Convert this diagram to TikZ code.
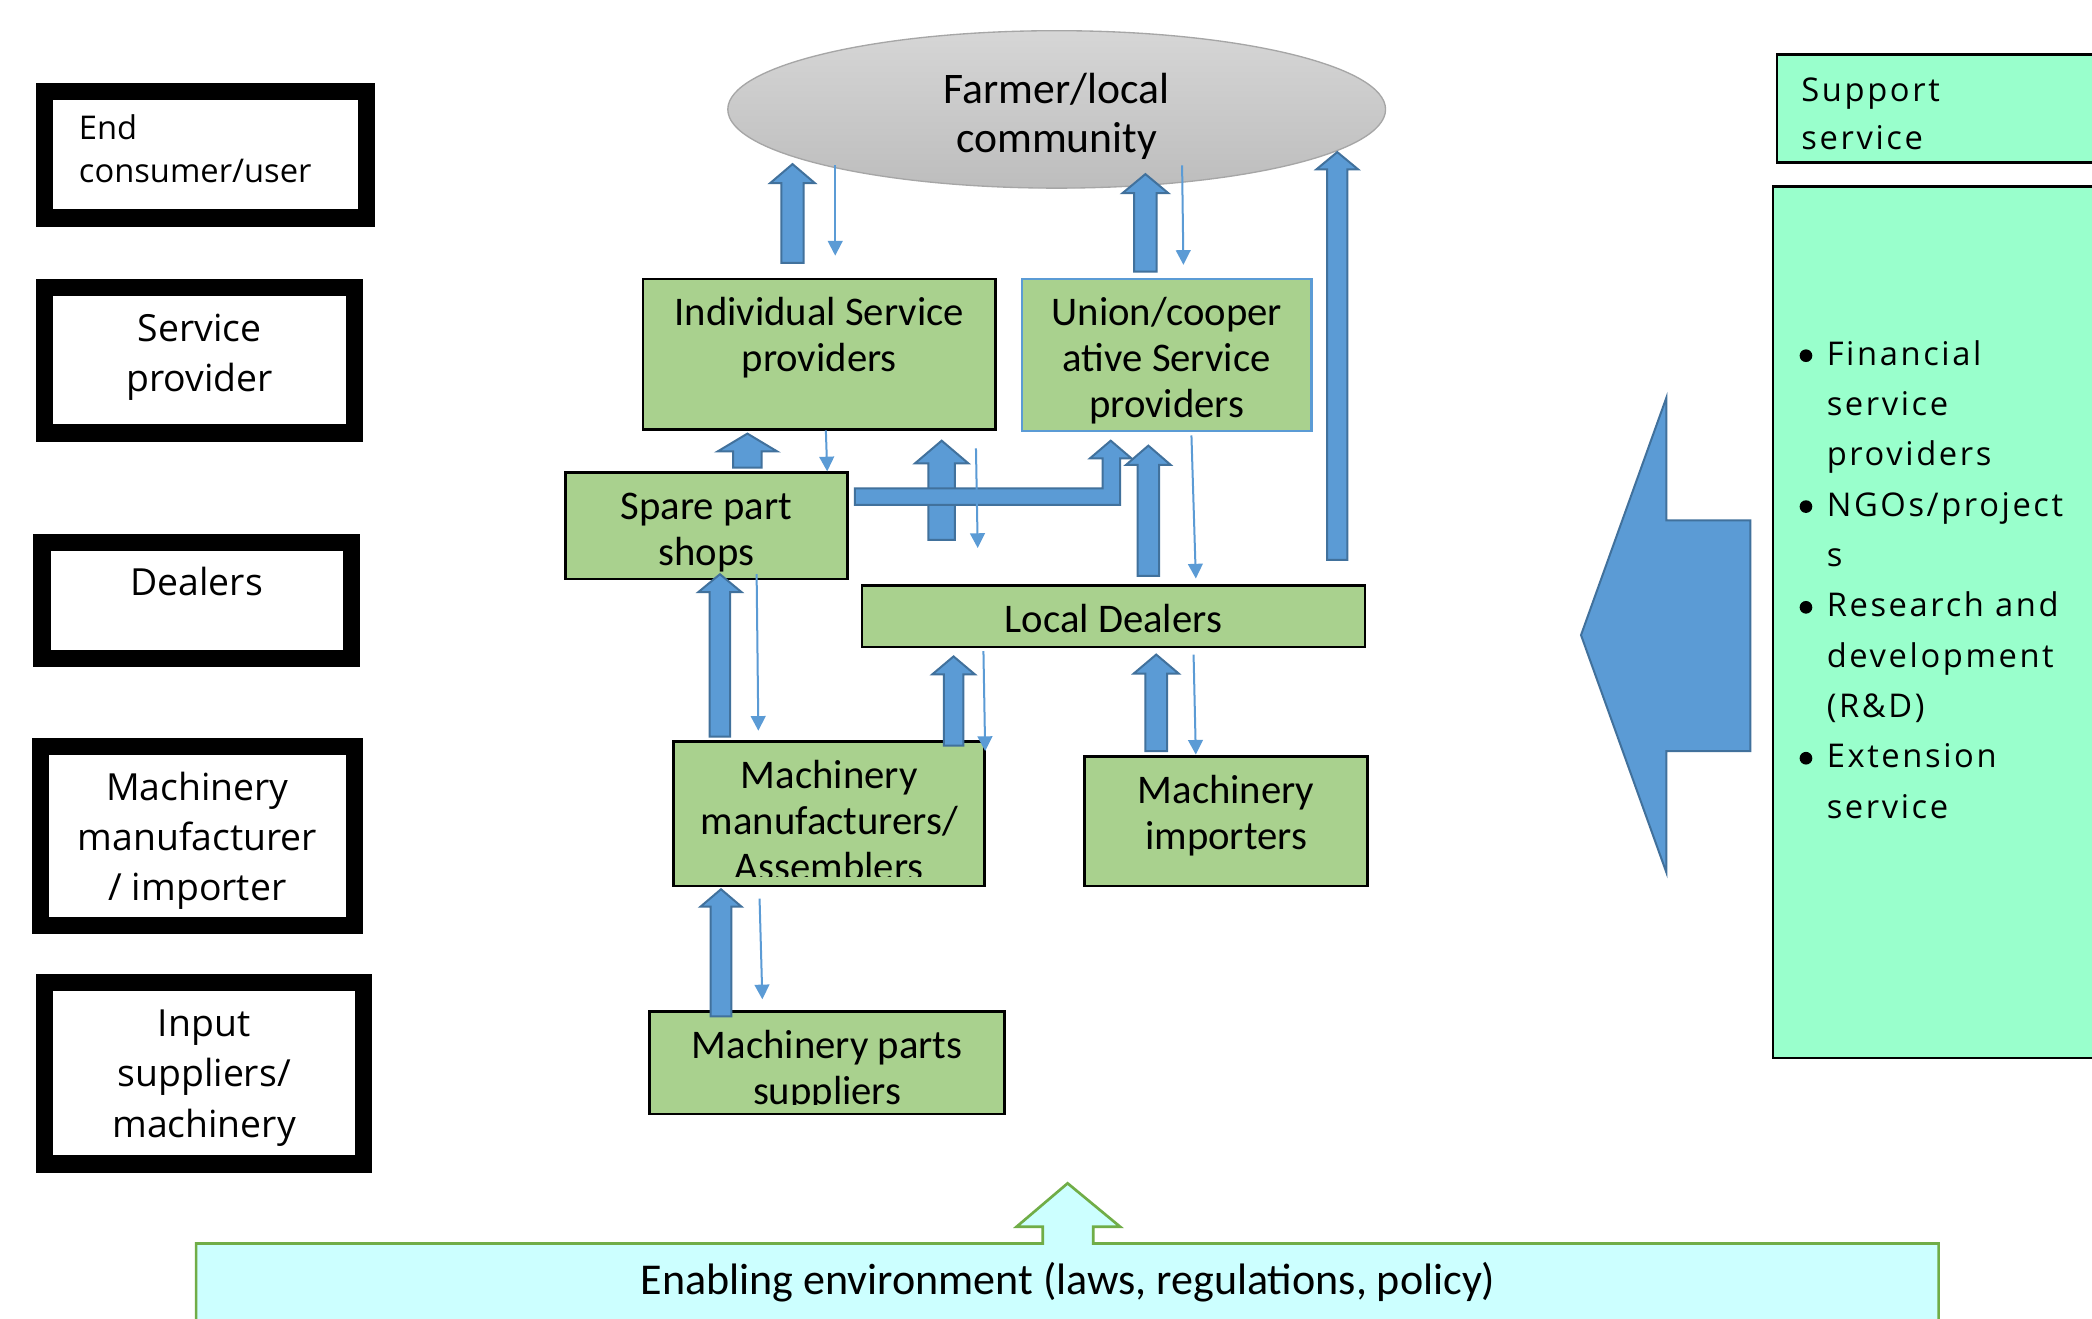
\documentclass[tikz,border=0pt]{standalone}
\usepackage{fontspec}
\setmainfont{Carlito}
\newfontfamily\osans{Open Sans}
\newfontfamily\supfont[LetterSpace=8]{Open Sans}
\usetikzlibrary{arrows.meta,shapes.geometric}
\definecolor{boxgreen}{HTML}{A9D18E}
\definecolor{arrblue}{HTML}{5B9BD5}
\definecolor{arrdark}{HTML}{41719C}
\definecolor{mint}{HTML}{99FFCC}
\definecolor{lcyan}{HTML}{CCFFFF}
\definecolor{envgreen}{HTML}{70AD47}
\definecolor{elltop}{HTML}{D6D6D6}
\definecolor{ellbot}{HTML}{BDBDBD}
\definecolor{ellline}{HTML}{A6A6A6}
\newcommand\stt[1]{\rule{0pt}{#1pt}}
\newcommand\blkup[6]{%
  \filldraw[blockarr] (#1-#4,#2) -- (#1-#4,#3+#6) -- (#1-#5,#3+#6) -- (#1,#3)
    -- (#1+#5,#3+#6) -- (#1+#4,#3+#6) -- (#1+#4,#2) -- cycle;}
\tikzset{
  lbox/.style={draw=black, line width=13pt, fill=white, inner sep=0pt},
  gbox/.style={draw=black, line width=2pt, fill=boxgreen, inner sep=0pt},
  gtxt/.style={inner sep=0pt, align=center, font=\fontsize{30.5}{34.5}\selectfont},
  ltxt/.style={inner sep=0pt, align=center, font=\osans\fontsize{28}{37.5}\selectfont},
  stxt/.style={inner sep=0pt, align=left, anchor=north west},
  blockarr/.style={fill=arrblue, draw=arrdark, line width=1.5pt, line join=miter},
  thinarr/.style={draw=arrblue, line width=1.5pt, -{Triangle[width=11pt,length=11pt]}},
  bul/.style={circle, fill=black, inner sep=0pt, minimum size=9.5pt}
}
\begin{document}
\begin{tikzpicture}[x=1pt,y=-1pt]
\useasboundingbox (0,0) rectangle (1568,988);
\fill[white] (0,0) rectangle (1568,988);

% ---- left column
\node[lbox, minimum width=241pt, minimum height=95pt] (endu) at (154,116) {};
\node[lbox, minimum width=232pt, minimum height=109pt] (servp) at (149.5,270) {};
\node[lbox, minimum width=232pt, minimum height=87pt] (deal) at (147.5,450) {};
\node[lbox, minimum width=235pt, minimum height=134pt] (manimp) at (148,626.5) {};
\node[lbox, minimum width=239pt, minimum height=136pt] (inputs) at (153,804.5) {};
\node[stxt, font=\osans\fontsize{24.5}{32}\selectfont] (endut) at (59,84.5) {\stt{20}End\\consumer/user};
\node[ltxt, anchor=north] (servpt) at (149.5,232.5) {\stt{23}Service\\provider};
\node[ltxt, anchor=north] (dealt) at (147.5,423) {\stt{23}Dealers};
\node[ltxt, anchor=north] (manimpt) at (148,577) {\stt{23}Machinery\\manufacturer\\/ importer};
\node[ltxt, anchor=north] (inputst) at (153,754) {\stt{23}Input\\suppliers/\\machinery};

% ---- farmer ellipse
\node[ellipse, minimum width=493pt, minimum height=118pt, draw=ellline, line width=1pt,
      top color=elltop, bottom color=ellbot, inner sep=0pt] (farmer) at (792,82) {};
\node[inner sep=0pt, align=center, anchor=north, font=\fontsize{32.7}{37}\selectfont] (farmert) at (792,51)
  {\stt{26}Farmer/local\\community};

% ---- green boxes
\node[gbox, minimum width=264pt, minimum height=113pt] (indiv) at (614,265.5) {};
\node[gbox, draw=arrblue, minimum width=217pt, minimum height=114pt] (union) at (874.5,266) {};
\node[gbox, minimum width=211pt, minimum height=80pt] (spare) at (529.5,394) {};
\node[gbox, minimum width=377pt, minimum height=46pt] (local) at (834.5,462) {};
\node[gbox, minimum width=233pt, minimum height=108pt] (mman) at (621.5,610) {};
\node[gbox, minimum width=212pt, minimum height=97pt] (imp) at (919,615.5) {};
\node[gbox, minimum width=266pt, minimum height=77pt] (parts) at (620,796.5) {};

\node[gtxt, anchor=north] (indivt) at (614,220) {\stt{24}Individual Service\\providers};
\node[gtxt, anchor=north] (uniont) at (874.5,220) {\stt{24}Union/cooper\\ative Service\\providers};
\node[gtxt, anchor=north] (sparet) at (529.5,365) {\stt{24}Spare part\\shops};
\node[gtxt, anchor=north] (localt) at (834.5,450) {\stt{24}Local Dealers};
\begin{scope}
\clip (505,556) rectangle (738,657);
\node[gtxt, anchor=north] (mmant) at (621.5,567) {\stt{24}Machinery\\manufacturers/\\Assemblers};
\end{scope}
\node[gtxt, anchor=north] (impt) at (919,578) {\stt{24}Machinery\\importers};
\begin{scope}
\clip (487,758) rectangle (753,828);
\node[gtxt, anchor=north] (partst) at (620,769) {\stt{24}Machinery parts\\suppliers};
\end{scope}

% ---- block arrows (up)
\blkup{594}{197}{123}{8.4}{16.8}{14.3}
\blkup{858.5}{203.6}{130.5}{8.4}{17.2}{14.3}
\blkup{1002.3}{419.6}{114}{7.6}{15.7}{13}
\blkup{560.2}{350.5}{325}{10.7}{22.4}{13.4}
\blkup{705.8}{404.7}{330.3}{9.9}{20}{17}
% bent arrow spare -> union
\filldraw[blockarr] (640.8,366) -- (826.5,366) -- (826.5,343.5) -- (817,343.5) -- (832.5,330.3)
  -- (848,343.5) -- (839.5,343.5) -- (839.5,378.5) -- (640.8,378.5) -- cycle;
\blkup{860.7}{431.6}{334}{8}{16.8}{14.5}
\blkup{539.6}{552.2}{430.4}{7.7}{16.2}{13.4}
\blkup{714.7}{558.9}{492}{7.3}{15.9}{13.4}
\blkup{866.6}{562.9}{490.6}{8.2}{16.8}{14.2}
\blkup{540.4}{761.8}{666.5}{7.7}{15.3}{13}

% ---- thin arrows (down)
\draw[thinarr] (626,124) -- (626,191.6);
\draw[thinarr] (886,124) -- (887,198.5);
\draw[thinarr] (619,322.6) -- (620,353.3);
\draw[thinarr] (731.5,336) -- (732.8,410.7);
\draw[thinarr] (893,326.4) -- (896.3,433.6);
\draw[thinarr] (567.1,430.4) -- (568.4,547.7);
\draw[thinarr] (737.1,488) -- (738.4,562.9);
\draw[thinarr] (894.6,490.6) -- (896.3,565.6);
\draw[thinarr] (569.3,673.5) -- (571.4,749);

% ---- support service
\node[draw=black, line width=2pt, fill=mint, minimum width=269pt, minimum height=81pt, anchor=north west, inner sep=0pt]
  (suptitle) at (1331,40) {};
\node[draw=black, line width=2pt, fill=mint, minimum width=272pt, minimum height=653pt, anchor=north west, inner sep=0pt]
  (supbox) at (1328,139) {};
\node[stxt, font=\supfont\fontsize{24.5}{36.5}\selectfont] (suptitlet) at (1350,55.5) {\stt{20}Support\\service};
\node[stxt, font=\supfont\fontsize{24.5}{37.7}\selectfont] (suplist) at (1369,253.6)
  {\stt{20}Financial\\service\\providers\\NGOs/project\\s\\Research and\\development\\(R\&D)\\Extension\\service};
\node[bul] (b1) at (1353.6,266.6) {};
\node[bul] (b2) at (1353.6,379.7) {};
\node[bul] (b3) at (1353.6,455.2) {};
\node[bul] (b4) at (1353.6,568.3) {};

% ---- big left arrow
\filldraw[blockarr] (1185,476) -- (1249,298) -- (1249,390) -- (1312,390) -- (1312,563)
  -- (1249,563) -- (1249,654) -- cycle;

% ---- enabling environment
\filldraw[fill=lcyan, draw=envgreen, line width=2pt] (147,932) -- (781.5,932) -- (781.5,919.4) -- (762,919.4)
  -- (800.2,886.9) -- (839.5,919.4) -- (819.4,919.4) -- (819.4,932) -- (1453,932) -- (1453,1010)
  -- (147,1010) -- cycle;
\node[inner sep=0pt, anchor=base, font=\fontsize{33}{40}\selectfont] (enab) at (800.5,970)
  {Enabling environment (laws, regulations, policy)};
\end{tikzpicture}
\end{document}
